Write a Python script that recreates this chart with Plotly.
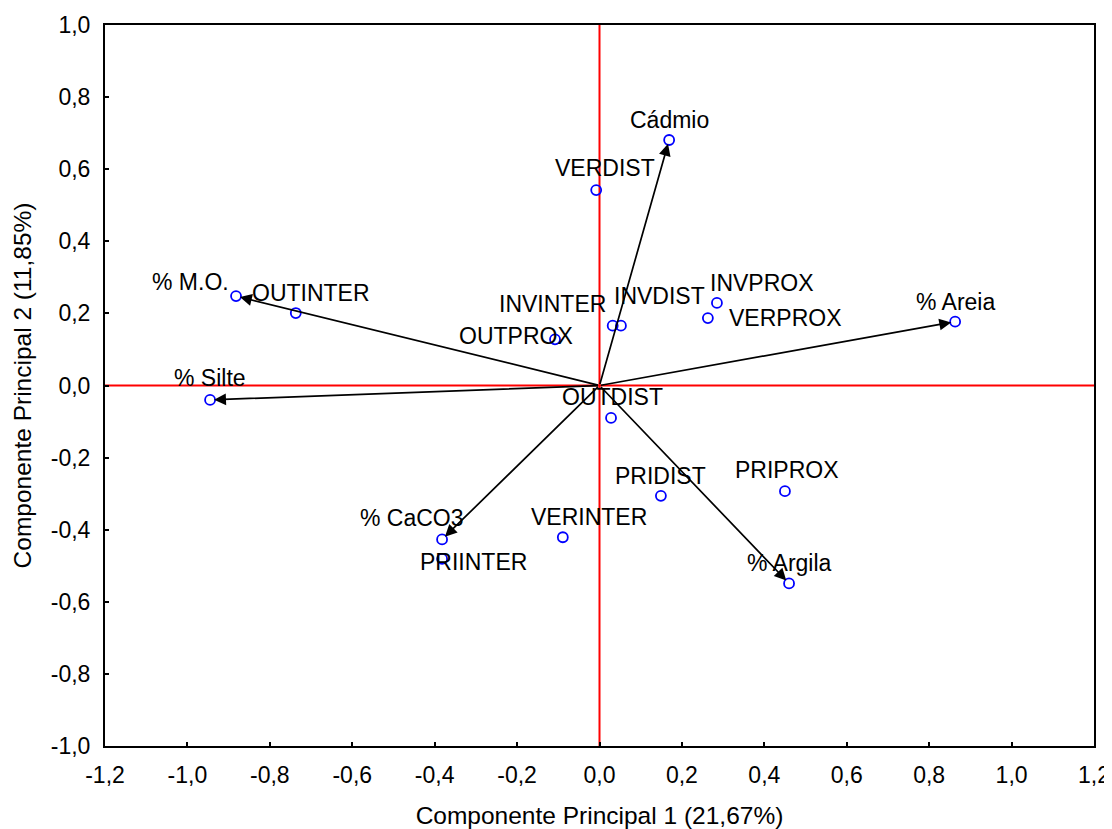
import plotly.graph_objects as go

# ---- data ----
names = ["Cádmio", "VERDIST", "% M.O.", "OUTINTER", "% Silte", "OUTPROX",
         "INVINTER", "INVDIST", "INVPROX", "VERPROX", "% Areia", "OUTDIST",
         "PRIDIST", "PRIPROX", "% Argila", "VERINTER", "% CaCO3", "PRIINTER"]
pc1 = [0.169, -0.008, -0.882, -0.737, -0.945, -0.108,
       0.032, 0.052, 0.285, 0.263, 0.863, 0.028,
       0.149, 0.450, 0.460, -0.089, -0.382, -0.382]
pc2 = [0.681, 0.542, 0.248, 0.201, -0.040, 0.128,
       0.166, 0.166, 0.229, 0.187, 0.177, -0.090,
       -0.306, -0.293, -0.549, -0.421, -0.427, -0.481]
variables = ["Cádmio", "% M.O.", "% Silte", "% Areia", "% Argila", "% CaCO3"]
xticks = [-1.2, -1.0, -0.8, -0.6, -0.4, -0.2, 0.0, 0.2, 0.4, 0.6, 0.8, 1.0, 1.2]
yticks = [-1.0, -0.8, -0.6, -0.4, -0.2, 0.0, 0.2, 0.4, 0.6, 0.8, 1.0]

# label pixel offsets (styling)
label_offsets = {
    "Cádmio": (0, 20), "VERDIST": (9, 22), "% M.O.": (-46, 14), "OUTINTER": (15, 20),
    "% Silte": (0, 22), "OUTPROX": (-39, 3), "INVINTER": (-60, 22), "INVDIST": (39, 30),
    "INVPROX": (45, 20), "VERPROX": (77, 0), "% Areia": (0, 20), "OUTDIST": (1, 21),
    "PRIDIST": (0, 20), "PRIPROX": (2, 21), "% Argila": (0, 20), "VERINTER": (26, 20),
    "% CaCO3": (-30, 21), "PRIINTER": (31, -3),
}

FONT = "Liberation Sans, Arial, sans-serif"
fig = go.Figure()

# reference lines
fig.add_shape(type="line", x0=0, x1=0, y0=-1.0, y1=1.0, xref="x", yref="y",
              line=dict(color="#ff0000", width=2), layer="below")
fig.add_shape(type="line", x0=-1.2, x1=1.2, y0=0, y1=0, xref="x", yref="y",
              line=dict(color="#ff0000", width=2), layer="below")

fig.add_trace(go.Scatter(
    x=pc1, y=pc2, mode="markers",
    marker=dict(symbol="circle-open", size=10, color="#0000ff", line=dict(width=1.8, color="#0000ff")),
    hoverinfo="text", text=names, showlegend=False,
))

# arrows for variables
for n, xv, yv in zip(names, pc1, pc2):
    if n in variables:
        fig.add_annotation(x=xv, y=yv, ax=0, ay=0, xref="x", yref="y", axref="x", ayref="y",
                           showarrow=True, arrowhead=2, arrowsize=1.4, arrowwidth=1.7,
                           arrowcolor="black", standoff=4, text="")

# labels
for n, xv, yv in zip(names, pc1, pc2):
    dx, dy = label_offsets[n]
    fig.add_annotation(x=xv, y=yv, xref="x", yref="y", text=n, showarrow=False,
                       xshift=dx, yshift=dy, font=dict(family=FONT, size=23, color="black"),
                       xanchor="center", yanchor="middle")

# page body has an 8px margin, so the figure is sized/offset to compensate
fig.update_layout(
    width=1104, height=821,
    margin=dict(l=97, r=18, t=17, b=83, autoexpand=False),
    plot_bgcolor="white", paper_bgcolor="white",
    font=dict(family=FONT, size=23, color="black"),
)
fig.update_xaxes(
    range=[-1.2, 1.2], tickvals=xticks, ticktext=[f"{v:.1f}".replace(".", ",") for v in xticks],
    ticks="inside", ticklen=4, tickwidth=1.5, tickcolor="black",
    showline=True, linecolor="black", linewidth=2, mirror=True, showgrid=False, zeroline=False,
    title=dict(text="Componente Principal 1 (21,67%)", standoff=22, font=dict(size=24.5)),
    ticklabelstandoff=7, automargin=False,
)
fig.update_yaxes(
    range=[-1.0, 1.0], tickvals=yticks, ticktext=[f"{v:.1f}".replace(".", ",") for v in yticks],
    ticks="inside", ticklen=4, tickwidth=1.5, tickcolor="black",
    showline=True, linecolor="black", linewidth=2, mirror=True, showgrid=False, zeroline=False,
    title=dict(text="Componente Principal 2 (11,85%)", standoff=12, font=dict(size=24.5)),
    ticklabelstandoff=8, automargin=False,
)

fig.write_html("out.html")
